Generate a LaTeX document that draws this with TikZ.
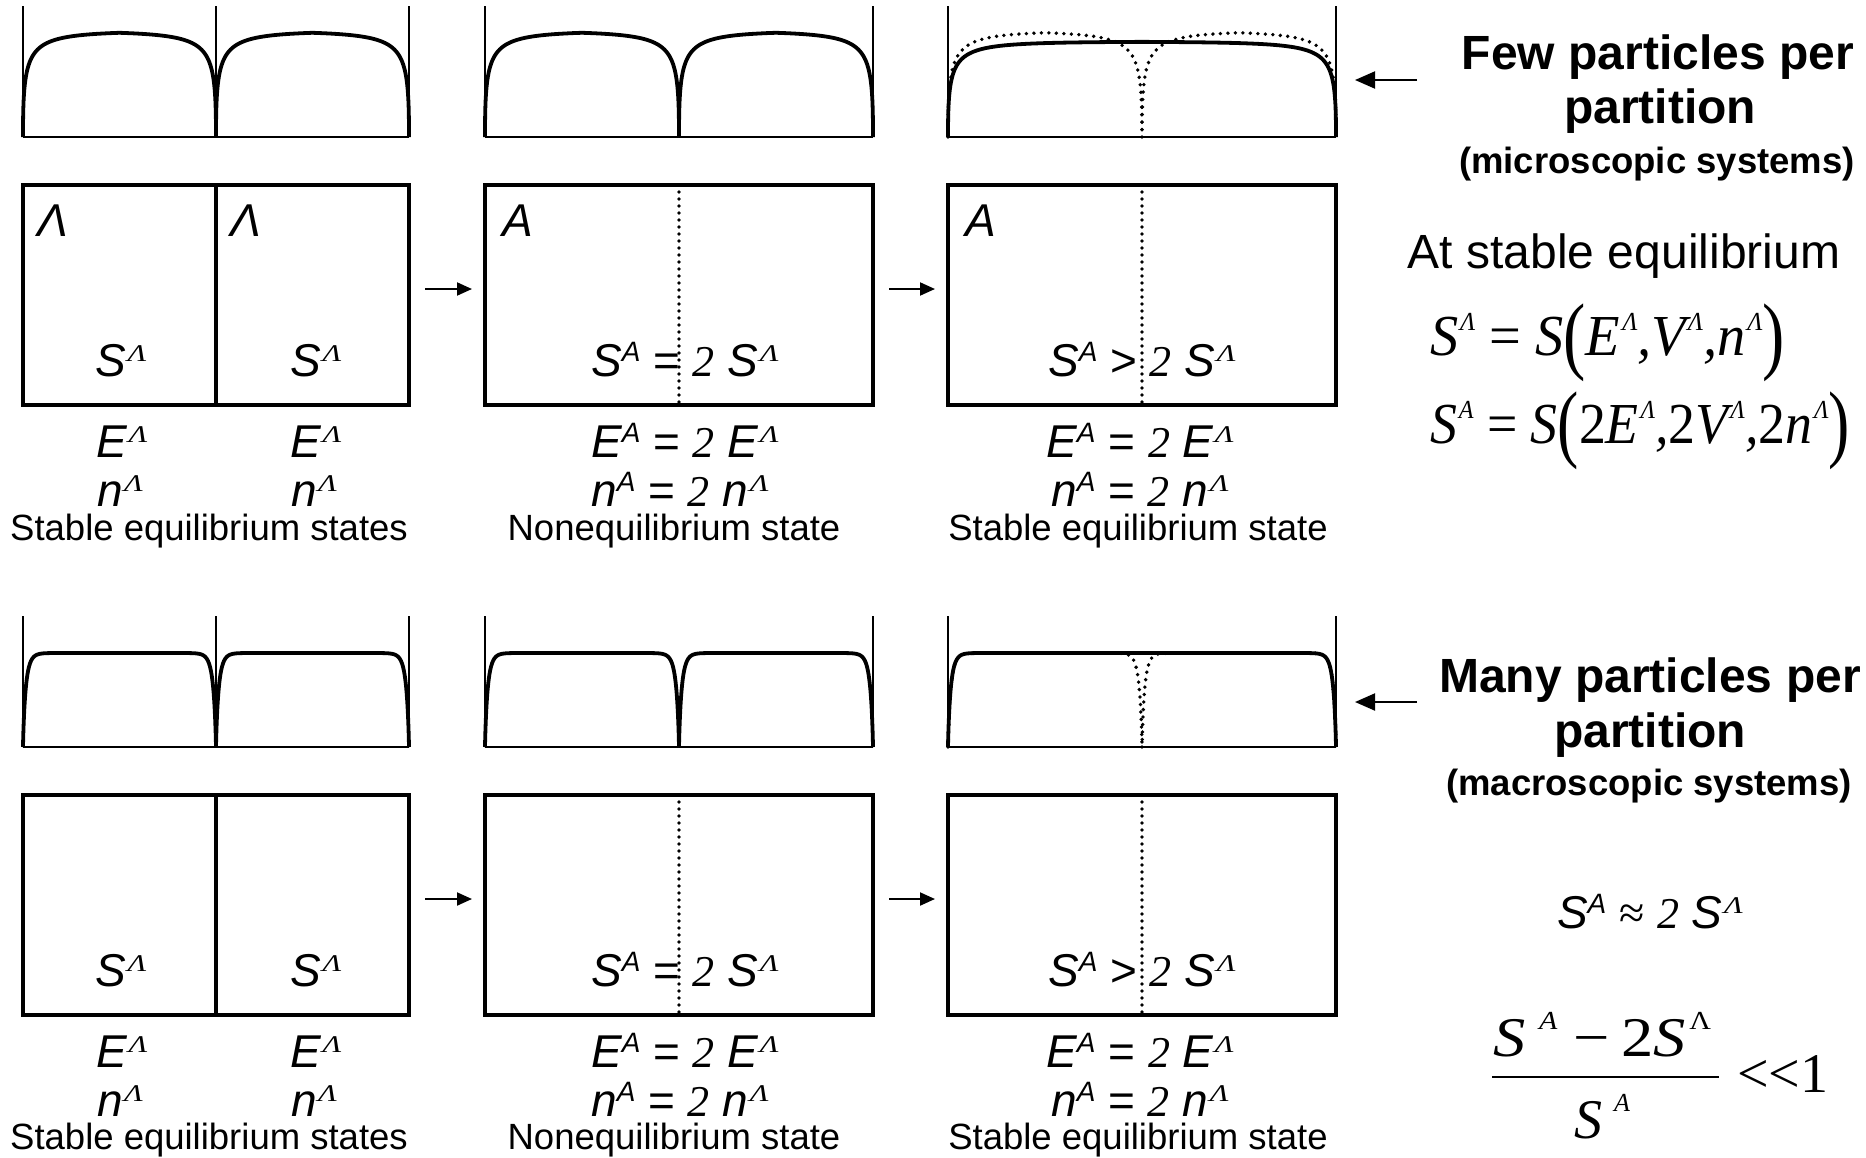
\documentclass[tikz,border=0pt]{standalone}
\usepackage{fontspec}
\usepackage{graphicx}
\setmainfont{Liberation Sans}
\newfontfamily\tms{Liberation Serif}
\usetikzlibrary{arrows.meta}

% box-formula superscripts (46pt context)
\newcommand{\supL}{\hspace{1.5pt}\raisebox{15pt}{\fontsize{24}{24}\selectfont\tms\itshape\scalebox{1.3}[1]{Λ}}}
\newcommand{\supA}{\raisebox{15pt}{\fontsize{28}{28}\selectfont\itshape A}}
\newcommand{\twoi}{{\tms\itshape\fontsize{44}{44}\selectfont 2}}
% right-hand equations (58pt Times context)
\newcommand{\rsupL}{\hspace{2pt}\raisebox{25pt}{\fontsize{26}{26}\selectfont\itshape Λ}}
\newcommand{\rsupA}{\hspace{2pt}\raisebox{25pt}{\fontsize{26}{26}\selectfont\itshape A}}
\newcommand{\fsupA}{\raisebox{27pt}{\fontsize{26}{26}\selectfont\itshape A}}
\newcommand{\fsupLup}{\raisebox{27pt}{\fontsize{26}{26}\selectfont\upshape Λ}}
\newcommand{\lpar}{\raisebox{-8pt}{\scalebox{0.8}[1]{\fontsize{86}{86}\selectfont\upshape(}}}
\newcommand{\rpar}{\raisebox{-8pt}{\scalebox{0.8}[1]{\fontsize{86}{86}\selectfont\upshape)}}}

% xl xr base H ell q style
\newcommand{\wallcurve}[7]{%
  \pgfmathsetmacro{\hw}{(#2-#1)/2}%
  \draw[#7] (#1,#3) -- plot[domain=0.05:1,samples=60]
      ({#1+\hw*\x^3},{#3-#4*(1-exp(-min(((\hw*\x^3)/#5)^#6,9)))})
    -- plot[domain=0:0.95,samples=60]
      ({#2-\hw*(1-\x)^3},{#3-#4*(1-exp(-min(((\hw*(1-\x)^3)/#5)^#6,9)))})
    -- (#2,#3);
}

\tikzset{
  boxst/.style={draw, line width=4pt, inner sep=0pt, outer sep=0pt, minimum height=220pt},
  wallst/.style={line width=1.6pt},
  basest/.style={line width=2pt},
  curvest/.style={line width=3.8pt, line join=round},
  dotcurve/.style={line width=3.8pt, dash pattern=on 0pt off 7.5pt, line cap=round},
  dotline/.style={line width=3.6pt, dash pattern=on 0pt off 7pt, line cap=round},
  midline/.style={line width=3.2pt},
  arr/.style={line width=2pt, -{Triangle[length=15pt,width=13pt]}},
  arrbig/.style={line width=2pt, -{Triangle[length=20pt,width=17pt]}},
  txt/.style={inner sep=0pt, outer sep=0pt, anchor=base},
  mtxt/.style={txt, font=\fontsize{46}{50}\selectfont},
  lbl/.style={txt, font=\fontsize{36.5}{40}\selectfont},
  head/.style={txt, font=\bfseries\fontsize{48}{50}\selectfont},
  subhead/.style={txt, font=\bfseries\fontsize{36.5}{40}\selectfont},
  ftxt/.style={txt, font=\tms\fontsize{56}{56}\selectfont},
}

\begin{document}
\begin{tikzpicture}[x=1pt,y=-1pt]
\useasboundingbox (0,0) rectangle (1866,1157);

% ================= panels (density profiles) =================
\foreach \yo in {0,610}{
  % column 1
  \draw[wallst] (23,6+\yo) -- (23,137+\yo);
  \draw[wallst] (216,6+\yo) -- (216,137+\yo);
  \draw[wallst] (409,6+\yo) -- (409,137+\yo);
  \draw[basest] (23,137+\yo) -- (409,137+\yo);
  % column 2
  \draw[wallst] (485,6+\yo) -- (485,137+\yo);
  \draw[wallst] (873,6+\yo) -- (873,137+\yo);
  \draw[basest] (485,137+\yo) -- (873,137+\yo);
  % column 3
  \draw[wallst] (948,6+\yo) -- (948,137+\yo);
  \draw[wallst] (1336,6+\yo) -- (1336,137+\yo);
  \draw[basest] (948,137+\yo) -- (1336,137+\yo);
}
% few particles (top row)
\wallcurve{23}{216}{137}{106}{4.25}{0.45}{curvest}
\wallcurve{216}{409}{137}{106}{4.25}{0.45}{curvest}
\wallcurve{485}{679}{137}{106}{4.25}{0.45}{curvest}
\wallcurve{679}{873}{137}{106}{4.25}{0.45}{curvest}
\wallcurve{948}{1336}{137}{95.5}{4.25}{0.45}{curvest}
\wallcurve{948}{1142}{137}{106}{4.25}{0.45}{dotcurve}
\wallcurve{1142}{1336}{137}{106}{4.25}{0.45}{dotcurve}
% many particles (bottom row)
\wallcurve{23}{216}{747}{94}{2.83}{0.87}{curvest}
\wallcurve{216}{409}{747}{94}{2.83}{0.87}{curvest}
\wallcurve{485}{679}{747}{94}{2.83}{0.87}{curvest}
\wallcurve{679}{873}{747}{94}{2.83}{0.87}{curvest}
\wallcurve{948}{1336}{747}{94}{2.83}{0.87}{curvest}
\wallcurve{948}{1142}{747}{94}{2.83}{0.87}{dotcurve}
\wallcurve{1142}{1336}{747}{94}{2.83}{0.87}{dotcurve}

% ================= boxes =================
\node[boxst, minimum width=386pt] (b1) at (216,295) {};
\node[boxst, minimum width=388pt] (b2) at (679,295) {};
\node[boxst, minimum width=388pt] (b3) at (1142,295) {};
\node[boxst, minimum width=386pt] (c1) at (216,905) {};
\node[boxst, minimum width=388pt] (c2) at (679,905) {};
\node[boxst, minimum width=388pt] (c3) at (1142,905) {};

\draw[midline] (b1.north) -- (b1.south);
\draw[midline] (c1.north) -- (c1.south);
\draw[dotline] (b2.north) -- (b2.south);
\draw[dotline] (b3.north) -- (b3.south);
\draw[dotline] (c2.north) -- (c2.south);
\draw[dotline] (c3.north) -- (c3.south);

\draw[arr, shorten <=16pt, shorten >=13pt] ([yshift=6pt]b1.east) -- ([yshift=6pt]b2.west);
\draw[arr, shorten <=16pt, shorten >=13pt] ([yshift=6pt]b2.east) -- ([yshift=6pt]b3.west);
\draw[arr, shorten <=16pt, shorten >=13pt] ([yshift=6pt]c1.east) -- ([yshift=6pt]c2.west);
\draw[arr, shorten <=16pt, shorten >=13pt] ([yshift=6pt]c2.east) -- ([yshift=6pt]c3.west);

% ================= box labels =================
\node[mtxt, anchor=base west] (L1a) at (37,236) {\itshape Λ};
\node[mtxt, anchor=base west] (L1b) at (230,236) {\itshape Λ};
\node[mtxt, anchor=base west] (L2) at (502,236) {\itshape A};
\node[mtxt, anchor=base west] (L3) at (965,236) {\itshape A};

\foreach \yo/\r/\lb in {0/t/540,610/u/1149}{
  % column 1
  \node[mtxt] (\r s1a) at (121,376+\yo) {\itshape S\supL};
  \node[mtxt] (\r s1b) at (316,376+\yo) {\itshape S\supL};
  \node[mtxt] (\r e1a) at (122,457+\yo) {\itshape E\supL};
  \node[mtxt] (\r e1b) at (316,457+\yo) {\itshape E\supL};
  \node[mtxt] (\r n1a) at (120,506+\yo) {\itshape n\supL};
  \node[mtxt] (\r n1b) at (314,506+\yo) {\itshape n\supL};
  \node[lbl] (\r t1) at (209,\lb) {Stable equilibrium states};
  % column 2
  \node[mtxt] (\r s2) at (685,376+\yo) {{\itshape S\supA} =\ \twoi\ {\itshape S\supL}};
  \node[mtxt] (\r e2) at (685,457+\yo) {{\itshape E\supA} = \twoi\ {\itshape E\supL}};
  \node[mtxt] (\r n2) at (680,506+\yo) {{\itshape n\supA} = \twoi\ {\itshape n\supL}};
  \node[lbl] (\r t2) at (674,\lb) {Nonequilibrium state};
  % column 3
  \node[mtxt] (\r s3) at (1142,376+\yo) {{\itshape S\supA} >\ \twoi\ {\itshape S\supL}};
  \node[mtxt] (\r e3) at (1140,457+\yo) {{\itshape E\supA} = \twoi\ {\itshape E\supL}};
  \node[mtxt] (\r n3) at (1140,506+\yo) {{\itshape n\supA} = \twoi\ {\itshape n\supL}};
  \node[lbl] (\r t3) at (1138,\lb) {Stable equilibrium state};
}

% ================= right side, top =================
\coordinate (ta1) at (1417,80);
\coordinate (ta2) at (1355,80);
\draw[arrbig] (ta1) -- (ta2);
\node[head] (h1a) at (1658,69) {Few particles per};
\node[head] (h1b) at (1660,123) {partition};
\node[subhead] (h1c) at (1657,173) {(microscopic systems)};
\node[txt, font=\fontsize{48}{50}\selectfont] (h1d) at (1624,268) {At stable equilibrium};
\node[txt, anchor=base west, font=\tms\fontsize{58}{60}\selectfont] (eq1) at (1430,355)
  {\resizebox{355pt}{\height}{\itshape S\rsupL\ \upshape=\ \itshape S\lpar E\rsupL,V\rsupL,n\rsupL\rpar}};
\node[txt, anchor=base west, font=\tms\fontsize{58}{60}\selectfont] (eq2) at (1430,443)
  {\resizebox{420pt}{\height}{\itshape S\rsupA\ \upshape=\ \itshape S\lpar\upshape 2\itshape E\rsupL,\upshape 2\itshape V\rsupL,\upshape 2\itshape n\rsupL\rpar}};

% ================= right side, bottom =================
\coordinate (tb1) at (1417,702);
\coordinate (tb2) at (1355,702);
\draw[arrbig] (tb1) -- (tb2);
\node[head] (h2a) at (1650,692) {Many particles per};
\node[head] (h2b) at (1650,747) {partition};
\node[subhead] (h2c) at (1649,795) {(macroscopic systems)};
\node[mtxt] (h2d) at (1650,928) {{\itshape S\supA} {\tms≈} \twoi\ {\itshape S\supL}};

\node[ftxt] (fnum) at (1602,1056)
  {\resizebox{218pt}{\height}{\itshape S\hspace{12pt}\fsupA\hspace{14pt}\upshape−\hspace{10pt}2\itshape S\hspace{3pt}\fsupLup}};
\node[ftxt] (fden) at (1602,1138)
  {\itshape S\hspace{12pt}\fsupA};
\coordinate (fb1) at (1492,1077);
\coordinate (fb2) at (1719,1077);
\draw[line width=2pt] (fb1) -- (fb2);
\node[ftxt, anchor=base west] (fll) at (1737,1092) {<<1};

\end{tikzpicture}
\end{document}
